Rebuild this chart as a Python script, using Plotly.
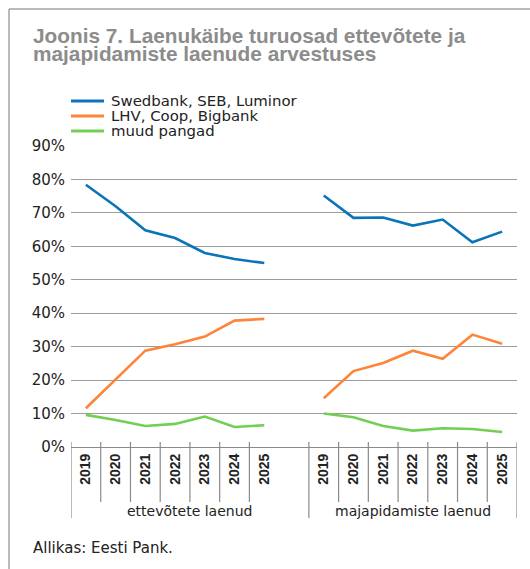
import plotly.graph_objects as go

# ---- data ----
years = ["2019", "2020", "2021", "2022", "2023", "2024", "2025"]
groups = ["ettevõtete laenud", "majapidamiste laenud"]
series_names = ["Swedbank, SEB, Luminor", "LHV, Coop, Bigbank", "muud pangad"]

corp_big3 = [78.4, 72.0, 64.8, 62.5, 58.0, 56.2, 55.0]
corp_lhv = [11.6, 20.2, 28.8, 30.7, 33.0, 37.8, 38.3]
corp_other = [9.6, 8.1, 6.3, 6.9, 9.1, 6.0, 6.5]

hh_big3 = [75.2, 68.5, 68.6, 66.2, 68.0, 61.2, 64.4]
hh_lhv = [14.6, 22.7, 25.1, 28.8, 26.4, 33.6, 30.9]
hh_other = [10.0, 8.9, 6.3, 4.9, 5.6, 5.4, 4.5]

y_ticks = [0, 10, 20, 30, 40, 50, 60, 70, 80, 90]
y_ticktext = [f"{v}%" for v in y_ticks]

colors = ["#0a74bb", "#fd853a", "#72cf52"]

# category slots: 7 corporate years, one blank slot, 7 household years
cats = ["e" + y for y in years] + ["gap"] + ["m" + y for y in years]
ticktext = ["<b>" + y + "</b>" for y in years] + [""] + ["<b>" + y + "</b>" for y in years]

series = [
    corp_big3 + [None] + hh_big3,
    corp_lhv + [None] + hh_lhv,
    corp_other + [None] + hh_other,
]

BODY = "DejaVu Sans, Verdana, sans-serif"
HEAD = "Liberation Sans, Arial, sans-serif"

fig = go.Figure()
for name, vals, c in zip(series_names, series, colors):
    fig.add_trace(go.Scatter(
        x=cats, y=vals, name=name, mode="lines",
        line=dict(color=c, width=2.6), connectgaps=False, showlegend=False,
    ))

L, R, T, B = 71, 13, 146, 122
W, H = 530, 569
pw = W - L - R
ph = H - T - B

def px_x(px):
    return (px - L) / pw

def px_y(py):
    return (H - B - py) / ph

shapes = []
# frame
shapes.append(dict(type="line", xref="paper", yref="paper",
                   x0=px_x(9), x1=px_x(540), y0=px_y(9), y1=px_y(9),
                   line=dict(color="#a3a3a3", width=1.5)))
shapes.append(dict(type="line", xref="paper", yref="paper",
                   x0=px_x(9), x1=px_x(9), y0=px_y(9), y1=px_y(580),
                   line=dict(color="#a3a3a3", width=1.5)))
# category dividers
n = len(cats)
long_pos = [-0.5, 7.5, 14.5]
short_pos = [0.5, 1.5, 2.5, 3.5, 4.5, 5.5, 8.5, 9.5, 10.5, 11.5, 12.5, 13.5]
for p in long_pos:
    shapes.append(dict(type="line", xref="x", yref="paper", x0=p, x1=p,
                       y0=px_y(442), y1=px_y(518),
                       line=dict(color="#8a8a8a", width=1.2)))
for p in short_pos:
    shapes.append(dict(type="line", xref="x", yref="paper", x0=p, x1=p,
                       y0=px_y(442), y1=px_y(502),
                       line=dict(color="#8a8a8a", width=1.2)))

annotations = [
    dict(text="<b>Joonis 7. Laenukäibe turuosad ettevõtete ja</b>", xref="paper", yref="paper",
         x=px_x(31), y=px_y(49), xanchor="left", yanchor="bottom", showarrow=False,
         font=dict(family=HEAD, size=20.8, color="#8c8c8c")),
    dict(text="<b>majapidamiste laenude arvestuses</b>", xref="paper", yref="paper",
         x=px_x(31), y=px_y(67), xanchor="left", yanchor="bottom", showarrow=False,
         font=dict(family=HEAD, size=20.8, color="#8c8c8c")),
    dict(text=groups[0], xref="x", yref="paper", x=3.5, y=px_y(511),
         xanchor="center", yanchor="middle", showarrow=False,
         font=dict(family=BODY, size=14, color="#222")),
    dict(text=groups[1], xref="x", yref="paper", x=11, y=px_y(511),
         xanchor="center", yanchor="middle", showarrow=False,
         font=dict(family=BODY, size=14, color="#222")),
    dict(text="Allikas: Eesti Pank.", xref="paper", yref="paper", x=px_x(31), y=px_y(548),
         xanchor="left", yanchor="middle", showarrow=False,
         font=dict(family=BODY, size=15, color="#222")),
]

# legend drawn as line samples + labels
leg_rows = [101, 116, 131]
for name, c, ry in zip(series_names, colors, leg_rows):
    shapes.append(dict(type="line", xref="paper", yref="paper",
                       x0=px_x(71), x1=px_x(104), y0=px_y(ry), y1=px_y(ry),
                       line=dict(color=c, width=3)))
    annotations.append(dict(text=name, xref="paper", yref="paper",
                            x=px_x(109), y=px_y(ry), xanchor="left", yanchor="middle",
                            showarrow=False, font=dict(family=BODY, size=14.9, color="#222")))

fig.update_layout(
    width=W, height=H,
    margin=dict(l=L, r=R, t=T, b=B, pad=0),
    paper_bgcolor="white", plot_bgcolor="white",
    font=dict(family=BODY, size=15, color="#222"),
    showlegend=False,
    shapes=shapes,
    annotations=annotations,
    xaxis=dict(
        type="category", categoryorder="array", categoryarray=cats,
        tickmode="array", tickvals=cats, ticktext=ticktext,
        tickangle=-90, tickfont=dict(size=14, color="#222", family=HEAD),
        showgrid=False, showline=True, linecolor="#8a8a8a", linewidth=1.2,
        ticks="", range=[-0.5, n - 0.5], zeroline=False, fixedrange=True,
    ),
    yaxis=dict(
        range=[0, 90], tickmode="array", tickvals=y_ticks, ticktext=y_ticktext,
        showgrid=True, gridcolor="#9c9c9c", gridwidth=1.2,
        showline=False, zeroline=False, ticks="", ticklabelstandoff=5,
        tickfont=dict(size=15, color="#222", family=BODY), fixedrange=True,
    ),
)

fig.write_html("out.html", post_script="document.body.style.margin='0';",
               config={"displayModeBar": False})
